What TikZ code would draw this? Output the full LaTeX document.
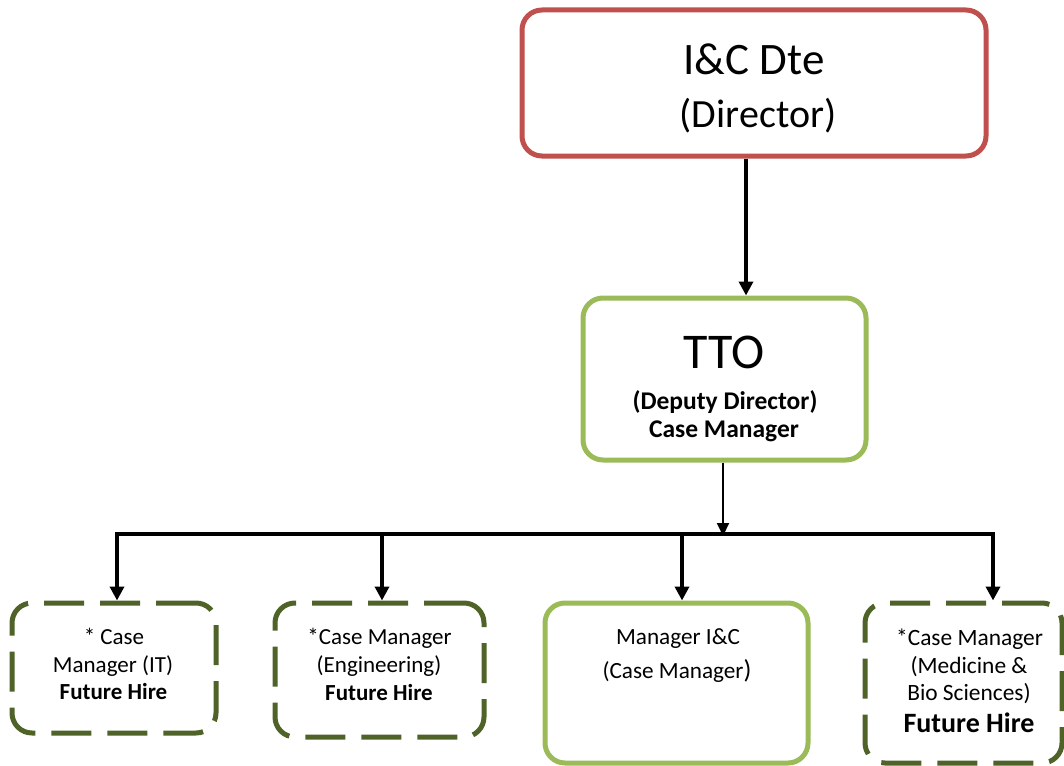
\documentclass[tikz,border=0pt]{standalone}
\usepackage{fontspec}
\setmainfont{Carlito}
\usetikzlibrary{arrows.meta}

\definecolor{dteRed}{HTML}{C0504D}
\definecolor{ttoGreen}{HTML}{9BBB59}
\definecolor{hireOlive}{HTML}{4F6228}

\newcommand{\fsz}[1]{\fontsize{#1}{#1}\selectfont}

\tikzset{
  orgbox/.style={rectangle, rounded corners=20pt, line width=5pt, inner sep=0pt, fill=white},
  dtebox/.style={orgbox, draw=dteRed},
  staffbox/.style={orgbox, draw=ttoGreen},
  hirebox/.style={orgbox, draw=hireOlive, dash pattern=on 40pt off 16pt},
  lbl/.style={anchor=base, inner sep=0pt, text=black},
  conn/.style={line width=4.5pt, -{Triangle[length=14pt,width=14pt]}},
  thinconn/.style={line width=2pt, -{Triangle[length=13pt,width=12pt]}},
  bus/.style={line width=4.5pt, line cap=rect},
}

\begin{document}
\begin{tikzpicture}[x=1pt, y=-1pt]
  \useasboundingbox (0,0) rectangle (1064,765);

  % boxes
  \node[dtebox,   minimum width=464pt, minimum height=146pt] (dte) at (754,83) {};
  \node[staffbox, minimum width=283pt, minimum height=162pt] (tto) at (724.5,379) {};
  \node[hirebox,  minimum width=204pt, minimum height=130pt] (it)  at (114,668) {};
  \node[hirebox,  minimum width=209pt, minimum height=134pt] (eng) at (379.5,670) {};
  \node[staffbox, minimum width=263pt, minimum height=160pt] (mgr) at (676.5,683) {};
  \node[hirebox,  minimum width=197pt, minimum height=160pt] (med) at (963.5,683) {};

  % labels
  \node[lbl] (dteA) at (754,75)  {\fsz{45}I\&C Dte};
  \node[lbl] (dteB) at (758,127) {\fsz{40}(Director)};

  \node[lbl] (ttoA) at (724,368) {\fsz{50}TTO};
  \node[lbl] (ttoB) at (725,409) {\fsz{25.5}\bfseries (Deputy Director)};
  \node[lbl] (ttoC) at (724,437) {\fsz{25.5}\bfseries Case Manager};

  \node[lbl] (itA) at (114,644)   {\fsz{23}* Case};
  \node[lbl] (itB) at (113,672)   {\fsz{23}Manager (IT)};
  \node[lbl] (itC) at (113.5,699) {\fsz{23}\bfseries Future Hire};

  \node[lbl] (engA) at (379.5,644) {\fsz{23}*Case Manager};
  \node[lbl] (engB) at (379,672)   {\fsz{23}(Engineering)};
  \node[lbl] (engC) at (379,700)   {\fsz{23}\bfseries Future Hire};

  \node[lbl] (mgrA) at (678,644) {\fsz{23.2}Manager I\&C};
  \node[lbl] (mgrB) at (677,678) {\fsz{23.2}(Case Manager{\fsz{26})}};

  \node[lbl] (medA) at (969.5,645) {\fsz{23.4}*Case Manager};
  \node[lbl] (medB) at (969,673)   {\fsz{23.4}(Medicine \&};
  \node[lbl] (medC) at (969,700)   {\fsz{23.4}Bio Sciences)};
  \node[lbl] (medD) at (969,732)   {\fsz{28}\bfseries Future Hire};

  % connectors
  \draw[conn] ([xshift=-8pt]dte.south) -- ([xshift=21.5pt]tto.north);

  \coordinate (busL) at (117,534);
  \coordinate (busR) at (993,534);
  \coordinate (busM) at (723,534);
  \coordinate (busE) at (382,534);
  \coordinate (busG) at (682,534);

  \draw[bus] (busL) -- (busR);
  \draw[thinconn] ([xshift=-1.5pt]tto.south) -- ([yshift=-2pt]busM);

  \draw[conn] (busL) -- (busL |- it.north);
  \draw[conn] (busE) -- (busE |- eng.north);
  \draw[conn] (busG) -- (busG |- mgr.north);
  \draw[conn] (busR) -- (busR |- med.north);
\end{tikzpicture}
\end{document}
